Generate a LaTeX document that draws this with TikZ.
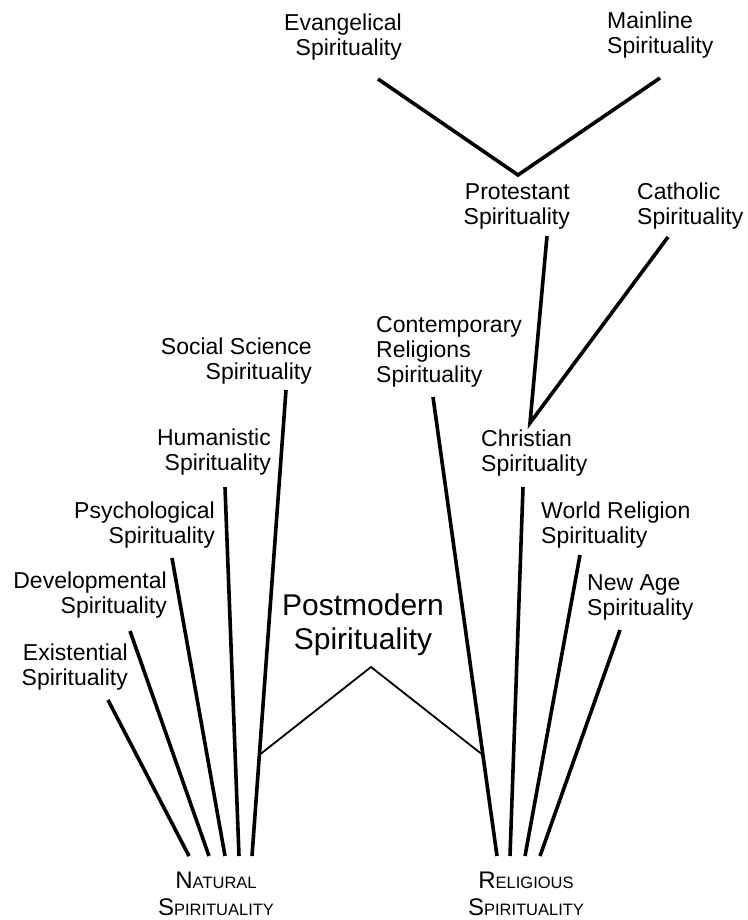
\documentclass[tikz,border=0pt]{standalone}
\usepackage{fontspec}
\setmainfont{Liberation Sans}
\newcommand\scpart[1]{{\fontsize{16.5}{27}\selectfont #1}}
\begin{document}
\begin{tikzpicture}[x=1pt,y=-1pt,
  lbl/.style={font=\fontsize{23}{25}\selectfont, inner sep=0pt},
  lblr/.style={lbl, align=right, anchor=east},
  lbll/.style={lbl, align=left, anchor=west},
  root/.style={font=\fontsize{24}{27}\selectfont, inner sep=0pt, align=center},
  branch/.style={line width=3.6pt},
  link/.style={line width=1.8pt}]
\useasboundingbox (0,0) rectangle (747,920);

% labels
\node[lblr] (evang) at (402,37.5) {Evangelical\\Spirituality};
\node[lbll] (mainline) at (607,35.5) {Mainline\\Spirituality};
\node[lblr] (prot) at (570,206.5) {Protestant\\Spirituality};
\node[lbll] (cath) at (637,206) {Catholic\\Spirituality};
\node[lbll] (contemp) at (376,352) {Contemporary\\Religions\\Spirituality};
\node[lbll] (christ) at (481,453.5) {Christian\\Spirituality};
\node[lbll] (world) at (541,525.5) {World Religion\\Spirituality};
\node[lbll] (newage) at (587,597.5) {New Age\\Spirituality};
\node[lblr] (social) at (312,361.5) {Social Science\\Spirituality};
\node[lblr] (human) at (271,452.5) {Humanistic\\Spirituality};
\node[lblr] (psych) at (215,525.5) {Psychological\\Spirituality};
\node[lblr] (devel) at (167,595.5) {Developmental\\Spirituality};
\node[lblr] (exist) at (128,667.5) {Existential\\Spirituality};
\node[inner sep=0pt, align=center, font=\fontsize{30}{34}\selectfont] (post) at (363,625) {Postmodern\\Spirituality};
\node[root] (natural) at (216,893.5) {N\scpart{ATURAL}\\S\scpart{PIRITUALITY}};
\node[root] (religious) at (526,893.5) {R\scpart{ELIGIOUS}\\S\scpart{PIRITUALITY}};

% branch ends
\coordinate (evtop) at (378,79);
\coordinate (pvert) at (518,175);
\coordinate (mltop) at (660,78);
\coordinate (ptop) at (547,236);
\coordinate (ctop) at (668,237);
\coordinate (cvert) at (530,423);
\coordinate (crtop) at (433,397);
\coordinate (chtop) at (523,487);
\coordinate (wrtop) at (580,555);
\coordinate (natop) at (620,630);
\coordinate (rb1) at (497,856);
\coordinate (rb2) at (510,856);
\coordinate (rb3) at (525,856);
\coordinate (rb4) at (540,856);
\coordinate (sstop) at (286,390);
\coordinate (hutop) at (225,487);
\coordinate (pstop) at (172,558);
\coordinate (dvtop) at (130,631);
\coordinate (extop) at (108,700);
\coordinate (nb1) at (189,856);
\coordinate (nb2) at (209,856);
\coordinate (nb3) at (225,856);
\coordinate (nb4) at (239,856);
\coordinate (nb5) at (252,856);
\coordinate (apex) at (371,667);
\path (sstop) -- (nb5) coordinate[pos=0.783] (pml);
\path (crtop) -- (rb1) coordinate[pos=0.78] (pmr);

% christian tradition
\draw[branch] (evtop) -- (pvert) -- (mltop);
\draw[branch] (ptop) -- (cvert) -- (ctop);

% religious spirituality
\draw[branch] (crtop) -- (rb1);
\draw[branch] (chtop) -- (rb2);
\draw[branch] (wrtop) -- (rb3);
\draw[branch] (natop) -- (rb4);

% natural spirituality
\draw[branch] (sstop) -- (nb5);
\draw[branch] (hutop) -- (nb4);
\draw[branch] (pstop) -- (nb3);
\draw[branch] (dvtop) -- (nb2);
\draw[branch] (extop) -- (nb1);

% postmodern bridge
\draw[link, line join=miter] (pml) -- (apex) -- (pmr);
\end{tikzpicture}
\end{document}
